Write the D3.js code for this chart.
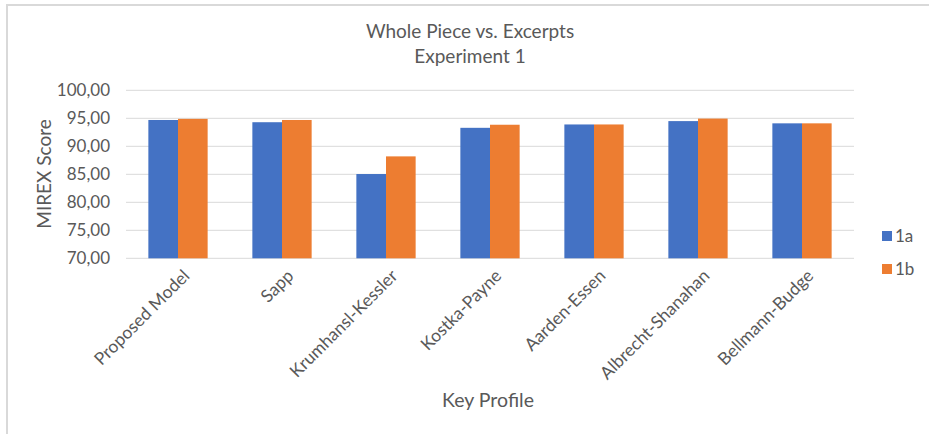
<!DOCTYPE html>
<html><head><meta charset="utf-8">
<script src="https://cdn.jsdelivr.net/npm/d3@7"></script>
<style>body{margin:0;background:#fff;} text{font-family:Lato,"Open Sans",sans-serif;fill:#595959;}</style>
</head><body><svg id="c" width="929" height="434"></svg>
<script>
const categories = ["Proposed Model","Sapp","Krumhansl-Kessler","Kostka-Payne","Aarden-Essen","Albrecht-Shanahan","Bellmann-Budge"];
const series = ["1a","1b"];
const values1a = [94.7, 94.3, 85.05, 93.3, 93.9, 94.5, 94.1];
const values1b = [94.9, 94.7, 88.2, 93.85, 93.9, 94.95, 94.1];
const yTicks = [70,75,80,85,90,95,100];
const colors = ["#4472c4","#ed7d31"];

const svg = d3.select("#c");
svg.append("path").attr("d","M7,434 V5 H929").attr("fill","none").attr("stroke","#d9d9d9").attr("stroke-width",2);

const L=126, R=854, T=90.3, B=258.3;
const x0 = d3.scaleBand().domain(categories).range([L,R]).paddingInner(0.43).paddingOuter(0.215);
const x1 = d3.scaleBand().domain(series).range([0,x0.bandwidth()]);
const y = d3.scaleLinear().domain([70,100]).range([B,T]);

svg.append("g").selectAll("line").data(yTicks).join("line")
  .attr("x1",L).attr("x2",R).attr("y1",d=>y(d)).attr("y2",d=>y(d))
  .attr("stroke","#d9d9d9").attr("stroke-width",1);

const yAxis = d3.axisLeft(y).tickValues(yTicks).tickSize(0).tickPadding(16)
  .tickFormat(d=>d3.format(".2f")(d).replace(".",","));
const ga = svg.append("g").attr("transform",`translate(${L},0)`).call(yAxis);
ga.select(".domain").remove();
ga.selectAll("text").style("font-size","17px").attr("fill","#595959").style("font-family",null);

const data = categories.map((c,i)=>({c, v:[values1a[i],values1b[i]]}));
const g = svg.append("g").selectAll("g").data(data).join("g").attr("transform",d=>`translate(${x0(d.c)},0)`);
g.selectAll("rect").data(d=>d.v.map((v,j)=>({s:series[j],v,j}))).join("rect")
  .attr("x",d=>x1(d.s)).attr("width",x1.bandwidth()).attr("y",d=>y(d.v)).attr("height",d=>B-y(d.v))
  .attr("fill",d=>colors[d.j]);

svg.append("g").selectAll("text").data(categories).join("text")
  .attr("transform",d=>`translate(${x0(d)+x0.bandwidth()/2+4},${B+10}) rotate(-45)`)
  .attr("text-anchor","end").attr("dy","0.7em").style("font-size","17.5px").text(d=>d);

svg.append("text").attr("x",470).attr("y",38).attr("text-anchor","middle").style("font-size","19px").text("Whole Piece vs. Excerpts");
svg.append("text").attr("x",470).attr("y",63).attr("text-anchor","middle").style("font-size","19px").text("Experiment 1");
svg.append("text").attr("transform","translate(51,174) rotate(-90)").attr("text-anchor","middle").style("font-size","19px").text("MIREX Score");
svg.append("text").attr("x",488).attr("y",407).attr("text-anchor","middle").style("font-size","19.5px").text("Key Profile");

const lg = svg.append("g").selectAll("g").data(series).join("g").attr("transform",(d,i)=>`translate(882,${231+i*33})`);
lg.append("rect").attr("width",10).attr("height",10).attr("fill",(d,i)=>colors[i]);
lg.append("text").attr("x",13).attr("y",5).attr("dy","0.35em").style("font-size","17px").text(d=>d);
</script></body></html>
